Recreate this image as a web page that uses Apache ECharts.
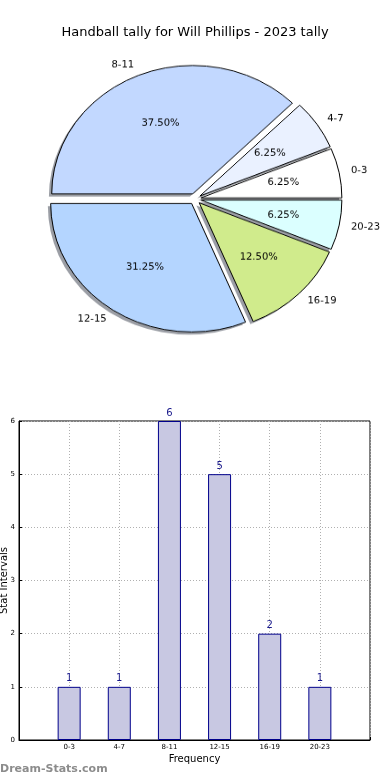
<!DOCTYPE html>
<html>
<head>
<meta charset="utf-8">
<script src="https://cdn.jsdelivr.net/npm/echarts@6/dist/echarts.min.js"></script>
<style>
html,body{margin:0;padding:0;background:#fff;}
#wrap{position:relative;width:390px;height:780px;overflow:hidden;}
#main{position:absolute;left:0;top:0;width:390px;height:780px;}
#pie{position:absolute;left:0;top:0;width:390px;height:440px;transform:scaleY(0.911);transform-origin:0 0;}
</style>
</head>
<body>
<div id="wrap"><div id="main"></div><div id="pie"></div></div>
<script>
const titleText = 'Handball tally for Will Phillips - 2023 tally';
const categories = ['0-3', '4-7', '8-11', '12-15', '16-19', '20-23'];
const values = [1, 1, 6, 5, 2, 1];
const pieColors = ['#ffffff', '#eaf1ff', '#c2d8ff', '#b4d5ff', '#d0eb8c', '#dbffff'];
const yTicks = [0, 1, 2, 3, 4, 5, 6];

const FONT = 'DejaVu Sans';

// ---------- bar chart ----------
const main = echarts.init(document.getElementById('main'), null, {renderer: 'canvas'});
main.setOption({
  animation: false,
  textStyle: {fontFamily: FONT},
  title: {
    text: titleText, left: 'center', top: 21,
    textStyle: {fontFamily: FONT, fontSize: 13, fontWeight: 'normal', color: '#000'}
  },
  grid: {left: 19, top: 421, width: 351, height: 319, show: true, borderColor: '#000', borderWidth: 1,
    backgroundColor: 'transparent', containLabel: false, outerBoundsMode: 'none'},
  xAxis: {
    type: 'value', min: 0, max: categories.length + 1, interval: 1,
    name: 'Frequency', nameLocation: 'middle', nameGap: 14, nameMoveOverlap: false,
    nameTextStyle: {fontFamily: FONT, fontSize: 10, color: '#000'},
    axisLine: {show: true, lineStyle: {color: '#000', width: 1}},
    axisTick: {show: true, inside: true, length: 3, lineStyle: {color: '#000'}},
    axisLabel: {
      fontFamily: FONT, fontSize: 7, color: '#000', margin: 4,
      formatter: v => (v >= 1 && v <= categories.length) ? categories[v - 1] : ''
    },
    splitLine: {show: true, lineStyle: {color: '#b0b0b0', type: [1, 2], width: 1}}
  },
  yAxis: {
    type: 'value', min: yTicks[0], max: yTicks[yTicks.length - 1], interval: 1,
    name: 'Stat Intervals', nameLocation: 'middle', nameGap: 10, nameMoveOverlap: false,
    nameTextStyle: {fontFamily: FONT, fontSize: 10, color: '#000'},
    axisLine: {show: true, lineStyle: {color: '#000', width: 1}},
    axisTick: {show: true, inside: true, length: 3, lineStyle: {color: '#000'}},
    axisLabel: {fontFamily: FONT, fontSize: 7, color: '#000', margin: 4},
    splitLine: {show: true, lineStyle: {color: '#b0b0b0', type: [1, 2], width: 1}}
  },
  graphic: [{
    type: 'text', left: 0, top: 764,
    style: {text: 'Dream-Stats.com', fill: '#8c8c8c', font: 'bold 11px "DejaVu Sans"'}
  }],
  series: [{
    type: 'bar',
    data: categories.map((c, i) => [i + 1, values[i]]),
    barWidth: 23,
    itemStyle: {color: '#c8c8e2', borderColor: '#00008b', borderWidth: 1},
    label: {show: true, position: 'top', distance: 3, color: '#1a1a8c', fontFamily: FONT, fontSize: 10},
    emphasis: {disabled: true}
  }]
});

// ---------- pie chart ----------
const pie = echarts.init(document.getElementById('pie'), null, {renderer: 'canvas'});
const CX = 195, CY = 218.4, R = 141, OFF = 6;
const mk = (extra) => categories.map((c, i) => Object.assign({name: c, value: values[i], selected: true}, extra ? extra(i) : {}));
const base = {
  type: 'pie', startAngle: 0, clockwise: false, selectedMode: 'multiple', selectedOffset: OFF,
  avoidLabelOverlap: false, animation: false, emphasis: {disabled: true}, silent: true
};
pie.setOption({
  animation: false,
  series: [
    Object.assign({}, base, {
      center: [CX - 2.8, CY + 2.8], radius: R,
      data: mk(),
      itemStyle: {color: 'rgba(55,62,76,0.5)', borderWidth: 0},
      label: {show: false}, labelLine: {show: false}
    }),
    Object.assign({}, base, {
      center: [CX, CY], radius: R,
      data: mk(i => ({itemStyle: {color: pieColors[i]}})),
      itemStyle: {borderColor: '#000', borderWidth: 1},
      label: {show: false}, labelLine: {show: false}
    }),
    Object.assign({}, base, {
      center: [CX, CY], radius: [R * 0.15, R],
      data: mk(),
      itemStyle: {color: 'rgba(0,0,0,0)', borderWidth: 0},
      label: {show: true, position: 'inside', fontFamily: FONT, fontSize: 10, color: '#000',
        formatter: p => p.percent.toFixed(2) + '%'},
      labelLine: {show: false}
    }),
    Object.assign({}, base, {
      center: [CX, CY], radius: R,
      data: mk(),
      itemStyle: {color: 'rgba(0,0,0,0)', borderWidth: 0},
      label: {show: true, position: 'outside', fontFamily: FONT, fontSize: 10, color: '#000',
        distanceToLabelLine: 0, alignTo: 'none'},
      labelLine: {show: false, length: 12, length2: 0}
    })
  ]
});
</script>
</body>
</html>
